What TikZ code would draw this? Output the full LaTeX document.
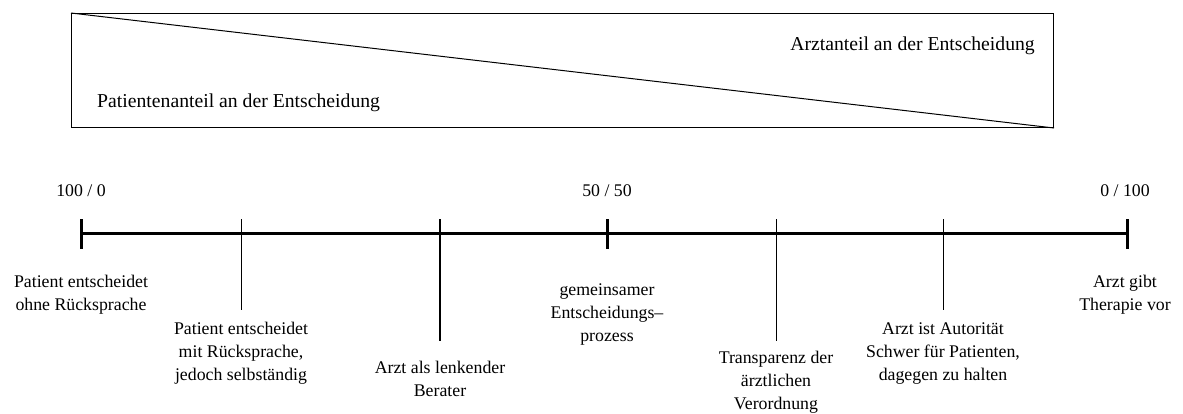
\documentclass[tikz,border=0pt]{standalone}
\usepackage{fontspec}
\setmainfont{Liberation Serif}
\begin{document}
\begin{tikzpicture}[x=1pt,y=-1pt,
  bigtext/.style={inner sep=0pt, font=\fontsize{19.7}{24}\selectfont},
  numtext/.style={anchor=base, inner sep=0pt, font=\fontsize{17.8}{23}\selectfont},
  lbl/.style={anchor=north, align=center, inner sep=0pt, font=\fontsize{17.8}{23}\selectfont},
  axisline/.style={line width=3pt},
  endtick/.style={line width=3pt},
  midtick/.style={line width=2.2pt},
  thintick/.style={line width=1pt},
  frame/.style={draw, line width=1pt, inner sep=0pt, minimum width=982pt, minimum height=114pt, anchor=north west}
]
\useasboundingbox (0,0) rectangle (1183,413);
% upper box with diagonal
\node[frame] (box) at (71,13) {};
\draw[line width=1pt] (box.north west) -- (box.south east);
\node[bigtext, anchor=base west] (pat) at (97,107) {Patientenanteil an der Entscheidung};
\node[bigtext, anchor=base east] (arzt) at (1035,50) {Arztanteil an der Entscheidung};

% axis coordinates
\coordinate (t0) at (81,233);
\coordinate (t100) at (1127,233);
\coordinate (t50) at (607,233);
\coordinate (a0) at (81,219);   \coordinate (b0) at (81,249);
\coordinate (a50) at (607,219); \coordinate (b50) at (607,249);
\coordinate (a100) at (1127,219); \coordinate (b100) at (1127,249);
\coordinate (aA) at (241,219); \coordinate (bA) at (241,310);
\coordinate (aB) at (440,219); \coordinate (bB) at (440,341);
\coordinate (aC) at (776,219); \coordinate (bC) at (776,341);
\coordinate (aD) at (943,219); \coordinate (bD) at (943,310);

\draw[axisline] (t0) -- (t100);
\draw[endtick] (a0) -- (b0);
\draw[endtick] (a50) -- (b50);
\draw[endtick] (a100) -- (b100);
\draw[thintick] (aA) -- (bA);
\draw[midtick] (aB) -- (bB);
\draw[thintick] (aC) -- (bC);
\draw[thintick] (aD) -- (bD);

% scale numbers
\node[numtext] (n0) at (81,196) {100 / 0};
\node[numtext] (n50) at (607,196) {50 / 50};
\node[numtext] (n100) at (1125,196) {0 / 100};

% labels
\node[lbl] (l1) at (81,270.9) {\strut Patient entscheidet\\ohne Rücksprache};
\node[lbl] (l2) at (241,317.9) {\strut Patient entscheidet\\mit Rücksprache,\\jedoch selbständig};
\node[lbl] (l3) at (440,356.9) {\strut Arzt als lenkender\\Berater};
\node[lbl] (l4) at (607,278.9) {\strut gemeinsamer\\Entscheidungs–\\prozess};
\node[lbl] (l5) at (776,346.9) {\strut Transparenz der\\ärztlichen\\Verordnung};
\node[lbl] (l6) at (943,317.9) {\strut Arzt ist Autorität\\Schwer für Patienten,\\dagegen zu halten};
\node[lbl] (l7) at (1125,270.9) {\strut Arzt gibt\\Therapie vor};
\end{tikzpicture}
\end{document}
